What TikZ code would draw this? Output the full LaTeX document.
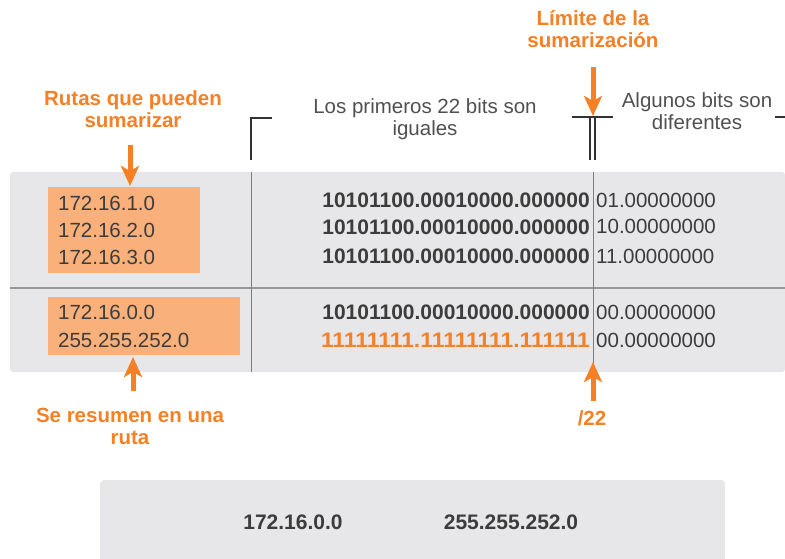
\documentclass[tikz,border=0pt]{standalone}
\usepackage{fontspec}
\setmainfont{Liberation Sans}
\usetikzlibrary{arrows.meta}
\definecolor{orangeT}{RGB}{245,128,37}
\definecolor{orangeBox}{RGB}{249,176,122}
\definecolor{bandgray}{RGB}{231,230,232}
\definecolor{textdark}{RGB}{60,60,60}
\definecolor{hdrgray}{RGB}{80,80,80}
\definecolor{linegray}{RGB}{125,125,125}
\begin{document}
\begin{tikzpicture}[x=1pt,y=-1pt,
  every node/.style={inner sep=0pt, font=\fontsize{20.5}{22}\selectfont},
  lbl/.style={text=orangeT, font=\fontsize{20.5}{22}\selectfont\bfseries, align=center},
  hdr/.style={text=hdrgray, align=center},
  addr/.style={text=textdark, anchor=west},
  binb/.style={text=textdark, font=\fontsize{21}{22}\selectfont\bfseries, anchor=east},
  binr/.style={text=textdark, anchor=west},
  binor/.style={text=orangeT, font=\fontsize{21}{22}\selectfont\bfseries, anchor=east},
  obox/.style={fill=orangeBox, anchor=north west},
  arr/.style={draw=orangeT, line width=5pt, -{Stealth[length=20pt,width=18pt,inset=5pt]}},
  brk/.style={draw=black!80, line width=1.5pt},
  sep/.style={draw=linegray, line width=1pt},
]
\useasboundingbox (0,0) rectangle (785,559);

% gray band
\fill[bandgray, rounded corners=3pt] (10,172) rectangle (785,372);
\draw[draw=linegray!80, line width=1.5pt] (10,288) -- (785,288);
\draw[sep] (251,172) -- (251,372);
\draw[sep] (593,172) -- (593,372);

% brackets
\draw[brk] (251,160) -- (251,118) -- (272,118);
\draw[brk] (572,117) -- (613,117);
\draw[brk] (590,117) -- (590,160);
\draw[brk] (595,117) -- (595,160);
\draw[brk] (775,117) -- (785,117);

% labels
\node[lbl] (rutas) at (133,109) {Rutas que pueden\\sumarizar};
\node[lbl] (limite) at (593,29) {Límite de la\\sumarización};
\node[hdr] (igual) at (425,119) {Los primeros 22 bits son\\iguales};
\node[hdr] (difer) at (697,111) {Algunos bits son\\diferentes};
\node[lbl] (resumen) at (130,426) {Se resumen en una\\ruta};
\node[lbl] (pref) at (592,418) {/22};

% orange boxes
\node[obox, minimum width=152pt, minimum height=86pt] (box1) at (48,187) {};
\node[obox, minimum width=192pt, minimum height=58pt] (box2) at (48,297) {};
\node[addr] (ip1) at (58,203) {172.16.1.0};
\node[addr] (ip2) at (58,230) {172.16.2.0};
\node[addr] (ip3) at (58,257) {172.16.3.0};
\node[addr] (ip4) at (58,312) {172.16.0.0};
\node[addr] (ip5) at (58,340) {255.255.252.0};

% binary rows
\node[binb] (b1) at (590,200) {10101100.00010000.000000};
\node[binr] (r1) at (596,200) {01.00000000};
\node[binb] (b2) at (590,227) {10101100.00010000.000000};
\node[binr] (r2) at (596,226) {10.00000000};
\node[binb] (b3) at (590,256) {10101100.00010000.000000};
\node[binr] (r3) at (596,256) {11.00000000};
\node[binb] (b4) at (590,312) {10101100.00010000.000000};
\node[binr] (r4) at (596,312) {00.00000000};
\node[binor] (b5) at (590,340) {\scalebox{1.09}[1]{11111111.11111111.111111}};
\node[binr] (r5) at (596,340) {00.00000000};

% arrows
\coordinate (a1s) at (130,145);
\coordinate (a1e) at (130,186);
\coordinate (a2s) at (593,67);
\coordinate (a2e) at (593,116);
\coordinate (a3s) at (133,391);
\coordinate (a3e) at (133,357);
\coordinate (a4s) at (593,401);
\coordinate (a4e) at (593,362);
\draw[arr] (a1s) -- (a1e);
\draw[arr] (a2s) -- (a2e);
\draw[arr] (a3s) -- (a3e);
\draw[arr] (a4s) -- (a4e);

% result box
\fill[bandgray, rounded corners=4pt] (100,480) rectangle (725,565);
\node[binb, anchor=center] (res1) at (293,522) {172.16.0.0};
\node[binb, anchor=center] (res2) at (511,522) {255.255.252.0};
\end{tikzpicture}
\end{document}
